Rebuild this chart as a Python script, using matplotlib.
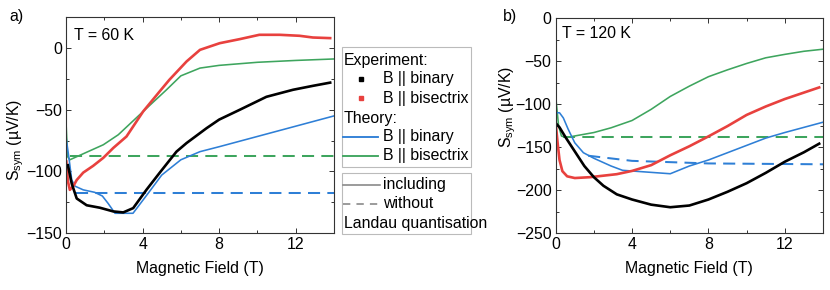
import matplotlib
matplotlib.use("Agg")
import matplotlib.pyplot as plt
from matplotlib.patches import Rectangle
from matplotlib.ticker import MultipleLocator

plt.rcParams['font.family'] = ['Liberation Sans', 'DejaVu Sans']
plt.rcParams['mathtext.fontset'] = 'custom'
plt.rcParams['mathtext.rm'] = 'Liberation Sans'
plt.rcParams['mathtext.it'] = 'Liberation Sans:italic'
FS = 11.4

RED = '#E8413E'
BLUE = '#2E7FD6'
GREEN = '#3EA55E'
BLACK = '#000000'

# ---------------- Panel a) T = 60 K ----------------
a_exp_bin_B = [0.1, 0.3, 0.56, 1.08, 1.77, 2.47, 2.99, 3.51, 4.2, 4.9, 5.77, 6.3, 7.34, 8.0, 9.08, 10.47, 11.86, 12.9, 13.8]
a_exp_bin_S = [-95, -110, -122, -127.5, -129.5, -132.5, -133.3, -129.8, -115, -101, -84, -77, -65, -58, -50, -39.5, -33.8, -30.6, -28]

a_exp_bis_B = [0.02, 0.1, 0.2, 0.38, 0.56, 0.9, 1.42, 1.95, 2.47, 3.16, 4.03, 4.9, 5.4, 6.3, 7.0, 8.03, 9.08, 10.1, 11.16, 12.2, 12.9, 13.8]
a_exp_bis_S = [-92, -108, -115, -112, -107, -101, -95.5, -89, -81, -71.7, -51.4, -35, -25.7, -10.8, -1.4, 4, 7.3, 10.8, 10.8, 10, 8.6, 8.1]

a_th_bin_B = [0.0, 0.17, 0.3, 0.47, 0.9, 1.5, 1.9, 2.2, 2.56, 3.5, 4.3, 5.0, 6.0, 7.0, 8.0, 14.0]
a_th_bin_S = [-72, -91, -107, -112, -115, -117, -120, -126, -134, -134, -117.6, -103, -90.6, -84, -80, -55]

a_th_bis_B = [0.0, 0.08, 0.2, 1.95, 2.73, 4.03, 5.25, 6.0, 7.0, 8.0, 10.0, 12.0, 14.0]
a_th_bis_S = [-59.5, -88, -90.6, -78.4, -70.3, -51.4, -33.8, -22.5, -16.2, -14, -11.5, -10, -8.8]

a_nq_bin_B = [0.5, 14.0]
a_nq_bin_S = [-117.3, -117.3]
a_nq_bis_B = [0.2, 14.0]
a_nq_bis_S = [-87.7, -87.7]

# ---------------- Panel b) T = 120 K ----------------
b_exp_bin_B = [0.0, 0.2, 0.5, 1.0, 1.5, 2.0, 2.5, 3.2, 4.0, 5.0, 6.0, 7.0, 8.0, 9.0, 10.0, 11.0, 12.0, 13.0, 13.8]
b_exp_bin_S = [-122, -127, -138, -155, -172, -185, -195, -205, -211, -217, -220, -218, -211, -202, -192, -180, -167, -156, -146]

b_exp_bis_B = [0.0, 0.1, 0.2, 0.35, 0.6, 1.0, 1.8, 3.2, 4.0, 5.0, 6.0, 7.0, 8.0, 9.0, 10.0, 11.0, 12.0, 13.0, 13.8]
b_exp_bis_S = [-122, -145, -165, -178, -184, -186, -185, -181.5, -177.7, -171, -159.5, -149, -137.5, -125.5, -112.5, -102.7, -94, -86.5, -80.5]

b_th_bin_B = [0.0, 0.2, 0.4, 0.65, 1.0, 1.45, 2.0, 2.9, 3.5, 6.0, 7.0, 8.0, 9.0, 10.0, 11.0, 12.0, 13.0, 14.0]
b_th_bin_S = [-110, -110, -116, -129, -145, -156.5, -163, -172, -177, -181, -172, -165, -156.5, -148, -139.5, -133, -127, -121]

b_th_bis_B = [0.0, 0.15, 0.3, 0.55, 1.0, 2.0, 2.9, 4.0, 5.0, 6.0, 7.0, 8.0, 9.0, 10.0, 11.0, 12.0, 13.0, 14.0]
b_th_bis_S = [-91, -125, -137, -139, -137, -133, -127.5, -119, -106, -91, -79, -68, -60, -52.6, -46, -42, -38.4, -36]

b_nq_bin_B = [1.7, 4.0, 8.0, 14.0]
b_nq_bin_S = [-160, -166, -169, -170]
b_nq_bis_B = [0.4, 14.0]
b_nq_bis_S = [-138, -138]

W, H = 830, 290
fig = plt.figure(figsize=(W / 100, H / 100), dpi=100)


def px_axes(l, r, t, b):
    return fig.add_axes([l / W, 1 - b / H, (r - l) / W, (b - t) / H])


ax1 = px_axes(66, 334, 17.3, 233)
ax2 = px_axes(555.7, 823, 18.3, 233)

EXP_LW = 1.9
TH_LW = 1.15
DASH = (6, 3.6)

for ax, d in [
    (ax1, dict(eb=(a_exp_bin_B, a_exp_bin_S), es=(a_exp_bis_B, a_exp_bis_S),
               tb=(a_th_bin_B, a_th_bin_S), ts=(a_th_bis_B, a_th_bis_S),
               nb=(a_nq_bin_B, a_nq_bin_S), ns=(a_nq_bis_B, a_nq_bis_S))),
    (ax2, dict(eb=(b_exp_bin_B, b_exp_bin_S), es=(b_exp_bis_B, b_exp_bis_S),
               tb=(b_th_bin_B, b_th_bin_S), ts=(b_th_bis_B, b_th_bis_S),
               nb=(b_nq_bin_B, b_nq_bin_S), ns=(b_nq_bis_B, b_nq_bis_S))),
]:
    ax.plot(*d['ns'], color=GREEN, lw=TH_LW + 0.3, dashes=DASH)
    ax.plot(*d['nb'], color=BLUE, lw=TH_LW + 0.3, dashes=DASH)
    ax.plot(*d['ts'], color=GREEN, lw=TH_LW)
    ax.plot(*d['tb'], color=BLUE, lw=TH_LW)
    ax.plot(*d['es'], color=RED, lw=EXP_LW)
    ax.plot(*d['eb'], color=BLACK, lw=EXP_LW)
    ax.set_xlim(0, 14)
    ax.xaxis.set_major_locator(MultipleLocator(4))
    ax.xaxis.set_minor_locator(MultipleLocator(2))
    ax.yaxis.set_major_locator(MultipleLocator(50))
    ax.yaxis.set_minor_locator(MultipleLocator(25))
    ax.tick_params(which='both', direction='in', top=True, right=True,
                   labelsize=FS, color='#333333', pad=3)
    ax.tick_params(which='major', length=3.5, width=0.7)
    ax.tick_params(which='minor', length=2.2, width=0.7)
    for s in ax.spines.values():
        s.set_color('#333333')
        s.set_linewidth(0.8)
    ax.set_xlabel('Magnetic Field (T)', fontsize=FS, labelpad=6)
    ax.set_ylabel('S$_{\\mathrm{sym}}$ (µV/K)', fontsize=FS)

ax1.set_ylim(-150, 25)
ax2.set_ylim(-250, 0)
ax1.yaxis.set_label_coords((26 - 66) / 268, (233 - 140) / (233 - 17.3))
ax2.yaxis.set_label_coords((518 - 555.7) / 267.3, (233 - 107) / (233 - 18.3))

# overlay in pixel coordinates for annotations / legends
ov = fig.add_axes([0, 0, 1, 1], facecolor='none')
ov.set_xlim(0, W)
ov.set_ylim(H, 0)
ov.axis('off')

ov.text(9, 21.5, 'a)', fontsize=FS, ha='left', va='baseline')
ov.text(503, 21.5, 'b)', fontsize=FS, ha='left', va='baseline')
ov.text(74, 39.5, 'T = 60 K', fontsize=FS, ha='left', va='baseline')
ov.text(561.5, 38.5, 'T = 120 K', fontsize=FS, ha='left', va='baseline')

BOX = '#BBBBBB'
ov.add_patch(Rectangle((341.5, 47), 129.2, 120, fill=False, edgecolor=BOX, lw=0.8))
ov.add_patch(Rectangle((341.5, 173), 129.2, 61, fill=False, edgecolor=BOX, lw=0.8))

hx0, hx1, tx, hdx = 343.3, 378.3, 383.3, 344
rows1 = [60, 79, 98.3, 118, 136.7, 155.7]
ov.text(hdx, rows1[0], 'Experiment:', fontsize=FS, va='center', ha='left')
ov.plot([361], [rows1[1]], marker='s', ms=2.4, color=BLACK, ls='none')
ov.text(tx, rows1[1], 'B || binary', fontsize=FS, va='center', ha='left')
ov.plot([361], [rows1[2]], marker='s', ms=2.4, color=RED, ls='none')
ov.text(tx, rows1[2], 'B || bisectrix', fontsize=FS, va='center', ha='left')
ov.text(hdx, rows1[3], 'Theory:', fontsize=FS, va='center', ha='left')
ov.plot([hx0, hx1], [rows1[4]] * 2, color=BLUE, lw=TH_LW + 0.2)
ov.text(tx, rows1[4], 'B || binary', fontsize=FS, va='center', ha='left')
ov.plot([hx0, hx1], [rows1[5]] * 2, color=GREEN, lw=TH_LW + 0.2)
ov.text(tx, rows1[5], 'B || bisectrix', fontsize=FS, va='center', ha='left')

rows2 = [185, 204, 223.3]
GRAY = '#808080'
ov.plot([hx0, hx1 + 2], [rows2[0]] * 2, color=GRAY, lw=1.1)
ov.text(tx, rows2[0], 'including', fontsize=FS, va='center', ha='left')
ov.plot([hx0, hx1 + 2], [rows2[1]] * 2, color=GRAY, lw=1.1, dashes=(4.8, 4))
ov.text(tx, rows2[1], 'without', fontsize=FS, va='center', ha='left')
ov.text(hdx, rows2[2], 'Landau quantisation', fontsize=FS, va='center', ha='left')

fig.savefig('out.png', dpi=100)
